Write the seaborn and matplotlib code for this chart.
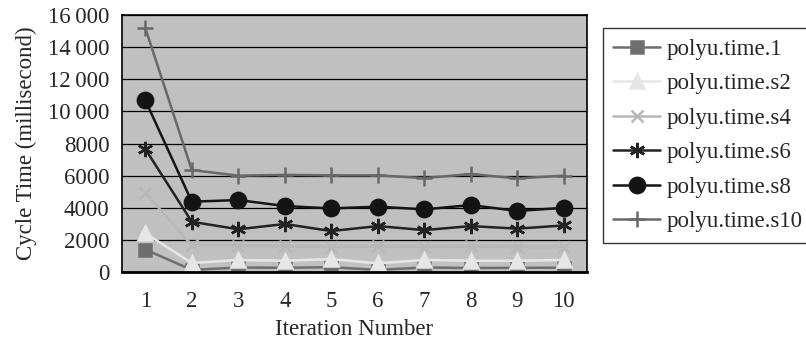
import numpy as np
import pandas as pd
import seaborn as sns
import matplotlib.pyplot as plt
from matplotlib.ticker import FuncFormatter, MultipleLocator

# Data
iterations = [1, 2, 3, 4, 5, 6, 7, 8, 9, 10]
series_names = ["polyu.time.1", "polyu.time.s2", "polyu.time.s4",
                "polyu.time.s6", "polyu.time.s8", "polyu.time.s10"]
time_1 = [1400, 130, 280, 260, 300, 130, 280, 250, 260, 270]
time_s2 = [2420, 560, 750, 700, 800, 540, 750, 700, 700, 750]
time_s4 = [4940, 1680, 1650, 1600, 1550, 1600, 1550, 1600, 1550, 1550]
time_s6 = [7660, 3130, 2660, 2990, 2550, 2860, 2610, 2860, 2700, 2900]
time_s8 = [10700, 4380, 4480, 4110, 3960, 4070, 3900, 4170, 3800, 4000]
time_s10 = [15200, 6350, 6000, 6050, 6020, 6020, 5850, 6100, 5830, 6000]

values = [time_1, time_s2, time_s4, time_s6, time_s8, time_s10]
df = pd.concat([pd.DataFrame({"Iteration": iterations, "Time": v, "Series": n})
                for n, v in zip(series_names, values)], ignore_index=True)

colors = ["#6e6e6e", "#e6e6e6", "#b8b8b8", "#222222", "#141414", "#686868"]
markers = ["s", "^", "x", (6, 2, 0), "o", "+"]
msizes = [8, 10, 9, 11, 11, 12]

sns.set_theme(style="white")
plt.rcParams["font.family"] = ["Liberation Serif", "DejaVu Serif"]
fs = 16.5

fig = plt.figure(figsize=(8.06, 3.43), dpi=100)
ax = fig.add_axes([0.1514, 0.207, 0.5769, 0.749])
ax.set_facecolor("#c0c0c0")

for name, c, m, ms in zip(series_names, colors, markers, msizes):
    sub = df[df["Series"] == name]
    sns.lineplot(data=sub, x="Iteration", y="Time", ax=ax, color=c,
                 marker=m, markersize=ms, linewidth=1.8, label=name,
                 markeredgecolor=c, markeredgewidth=1.8)

ax.set_xlim(0.5, 10.5)
ax.set_ylim(0, 16000)
ax.yaxis.set_major_locator(MultipleLocator(2000))
ax.yaxis.set_major_formatter(FuncFormatter(
    lambda v, p: f"{int(v):,}".replace(",", "\u2009") if v >= 10000 else f"{int(v)}"))
ax.set_xticks(iterations)
ax.set_xticks(np.arange(0.5, 11, 1), minor=True)
ax.tick_params(axis="x", which="major", length=0, labelsize=fs, pad=14)
ax.tick_params(axis="x", which="minor", length=7, direction="out", width=1)
ax.tick_params(axis="y", which="major", length=6, direction="out", labelsize=fs, pad=3, width=1)
ax.grid(axis="y", color="black", linewidth=0.9)
ax.set_axisbelow(True)
for s in ax.spines.values():
    s.set_color("black")
    s.set_linewidth(1.2)
ax.spines["bottom"].set_linewidth(2)

ax.set_xlabel("Iteration Number", fontsize=fs, labelpad=5)
ax.set_ylabel("Cycle Time (millisecond)", fontsize=fs, labelpad=8)

leg = ax.legend(loc="upper left", bbox_to_anchor=(1.034, 0.949), fontsize=fs,
                frameon=True, fancybox=False, edgecolor="black",
                handlelength=2.05, handletextpad=0.3, borderpad=0.45,
                labelspacing=0.59, borderaxespad=0)
leg.get_frame().set_linewidth(1.0)

plt.savefig("out.png", dpi=100)
